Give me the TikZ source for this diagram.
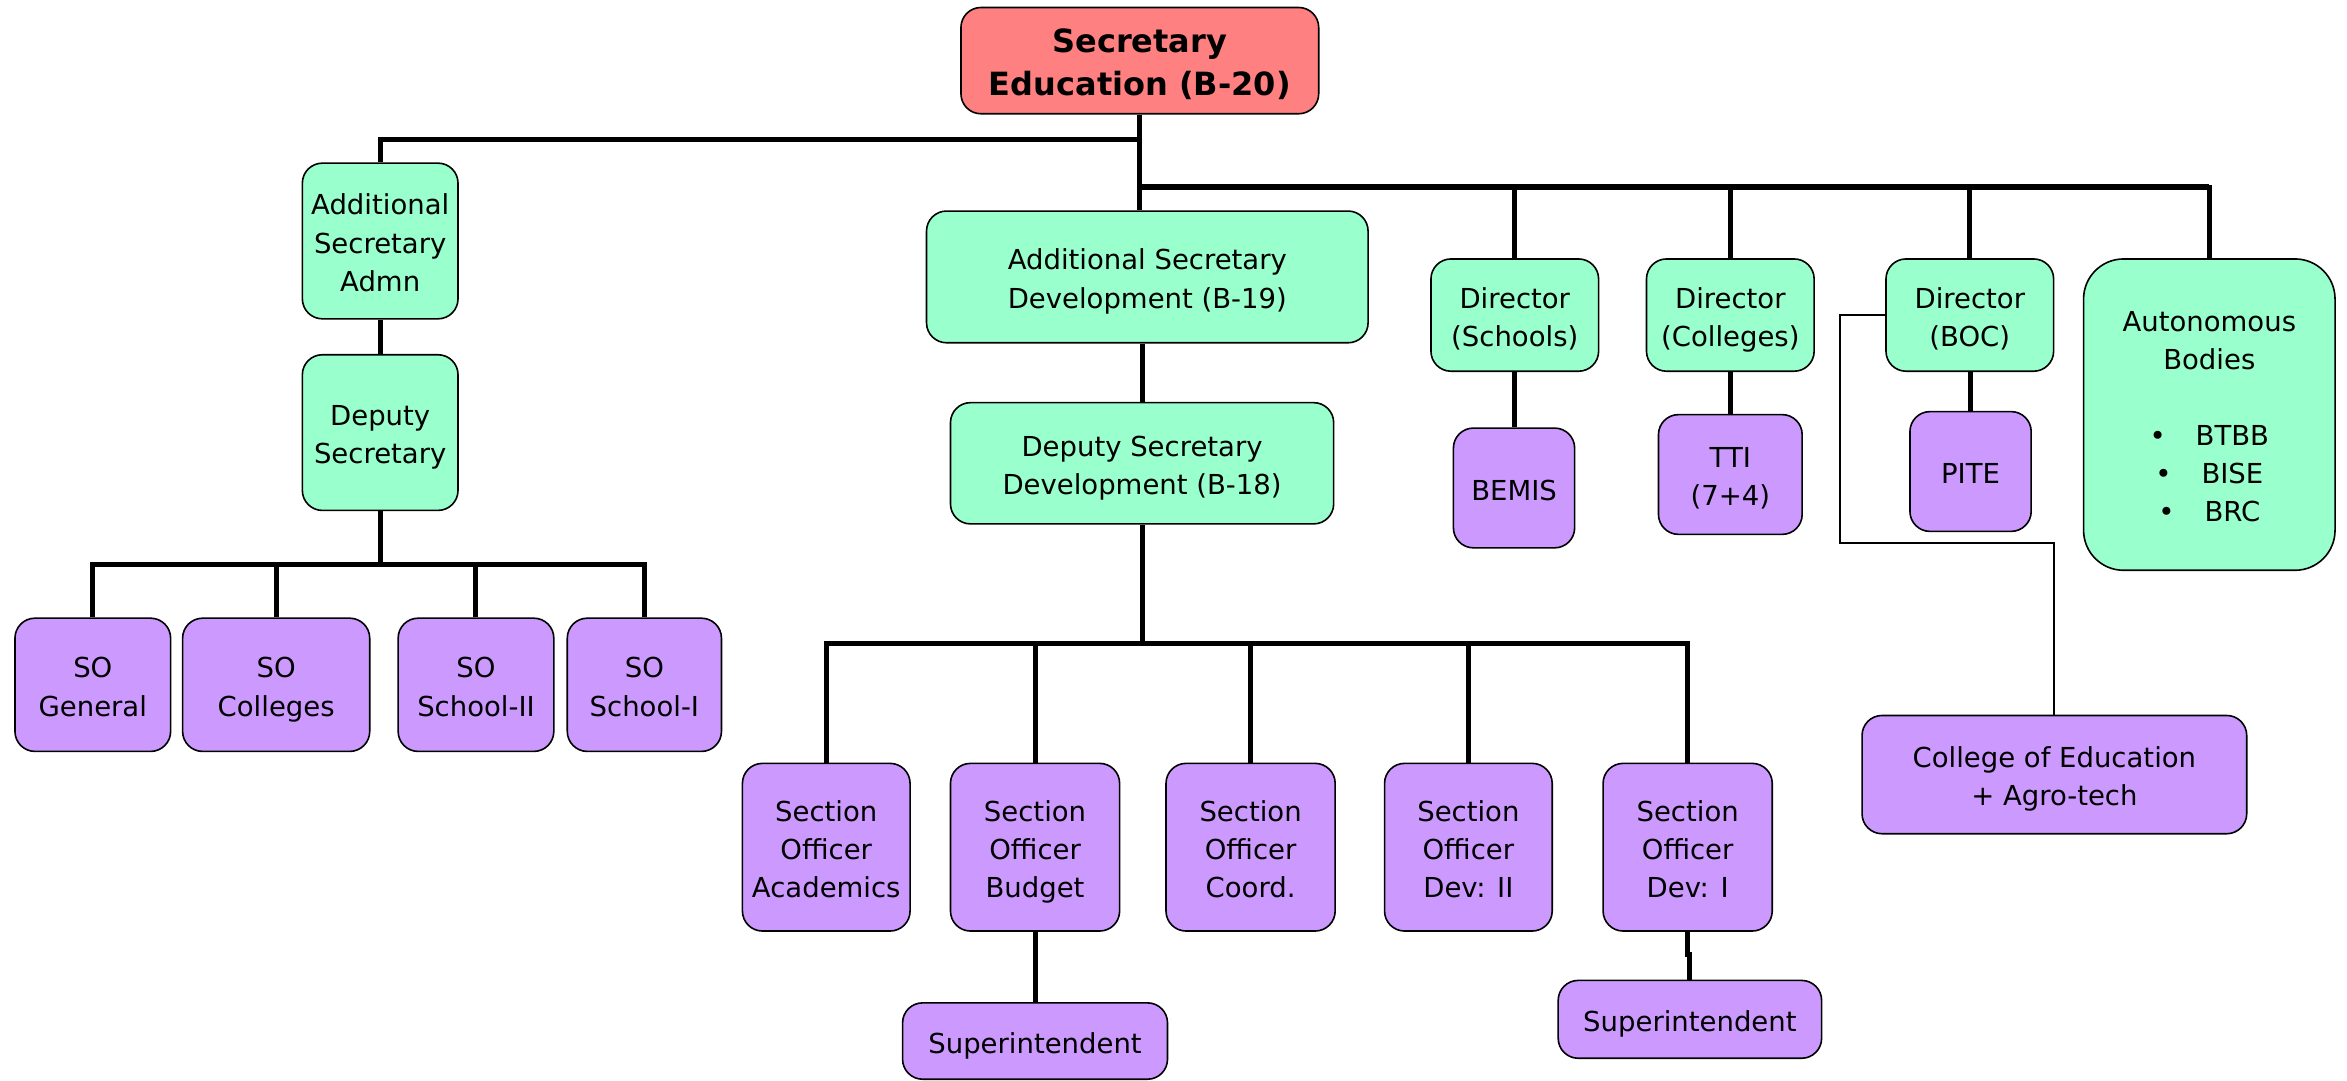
\documentclass[tikz,border=0pt]{standalone}
\usepackage{fontspec}
\setmainfont{DejaVu Sans}
\usetikzlibrary{calc}
\definecolor{redbox}{HTML}{FF8080}
\definecolor{greenbox}{HTML}{99FFCC}
\definecolor{purplebox}{HTML}{CC99FF}
\tikzset{
 box/.style={draw=black, line width=1.6pt, rounded corners=20pt, align=center, inner sep=0pt, font=\fontsize{27.5}{38.2}\selectfont},
 redb/.style={box, fill=redbox, font=\fontsize{32}{43.5}\selectfont\bfseries},
 greenb/.style={box, fill=greenbox},
 purpleb/.style={box, fill=purplebox},
 link/.style={line width=5pt},
 linkb/.style={line width=6.5pt},
 thinlink/.style={line width=1.8pt},
}
\newcommand{\topstr}{\rule{0pt}{\dimexpr0.7\baselineskip+9pt\relax}}
\newcommand{\bx}[7]{\pgfmathsetmacro\bxw{(#4-#2)*1.4968}\pgfmathsetmacro\bxh{(#5-#3)*1.4968}\node[#6, minimum width=\bxw pt, minimum height=\bxh pt] (#1) at ({(#2+#4)/2},{(#3+#5)/2}) {\topstr #7\strut};}
\begin{document}
\begin{tikzpicture}[x=1.4968pt,y=-1.4968pt]
\fill[white] (0,0) rectangle (1568,722);
\useasboundingbox (0,0) rectangle (1568,722);
% boxes
\bx{sec}{642}{5}{881}{76}{redb}{Secretary\\Education (B-20)}
\bx{asa}{202}{109}{306}{213}{greenb}{Additional\\Secretary\\Admn}
\bx{dsa}{202}{237}{306}{341}{greenb}{Deputy\\Secretary}
\bx{so1}{10}{413}{114}{502}{purpleb}{SO\\General}
\bx{so2}{122}{413}{247}{502}{purpleb}{SO\\Colleges}
\bx{so3}{266}{413}{370}{502}{purpleb}{SO\\School-II}
\bx{so4}{379}{413}{482}{502}{purpleb}{SO\\School-I}
\bx{asd}{619}{141}{914}{229}{greenb}{Additional Secretary\\Development (B-19)}
\bx{dsd}{635}{269}{891}{350}{greenb}{Deputy Secretary\\Development (B-18)}
\bx{sa}{496}{510}{608}{622}{purpleb}{Section\\Officer\\Academics}
\bx{sb}{635}{510}{748}{622}{purpleb}{Section\\Officer\\Budget}
\bx{sc}{779}{510}{892}{622}{purpleb}{Section\\Officer\\Coord.}
\bx{sd}{925}{510}{1037}{622}{purpleb}{Section\\Officer\\Dev: II}
\bx{se}{1071}{510}{1184}{622}{purpleb}{Section\\Officer\\Dev: I}
\bx{sup1}{603}{670}{780}{721}{purpleb}{Superintendent}
\bx{sup2}{1041}{655}{1217}{707}{purpleb}{Superintendent}
\bx{dsch}{956}{173}{1068}{248}{greenb}{Director\\(Schools)}
\bx{bemis}{971}{286}{1052}{366}{purpleb}{BEMIS}
\bx{dcol}{1100}{173}{1212}{248}{greenb}{Director\\(Colleges)}
\bx{tti}{1108}{277}{1204}{357}{purpleb}{TTI\\(7+4)}
\bx{boc}{1260}{173}{1372}{248}{greenb}{Director\\(BOC)}
\bx{pite}{1276}{275}{1357}{355}{purpleb}{PITE}
\bx{aut}{1392}{173}{1560}{381}{greenb,rounded corners=40pt}{Autonomous\\Bodies\\[37.4pt]•\hspace{30pt}BTBB\\•\hspace{30pt}BISE\\•\hspace{30pt}BRC}
\bx{coe}{1244}{478}{1501}{557}{purpleb}{College of Education\\+ Agro-tech}
% junctions
\coordinate (j1) at (761.5,93);
\coordinate (j2) at (761.5,125);
\coordinate (jl) at (254,377);
\coordinate (jd) at (763,430);
\coordinate (t1) at (1229,363);
% top connectors
\draw[link] (sec.south) -- (sec.south |- asd.north);
\draw[link] (j1) -| (asa.north);
\draw[linkb] (j2) -- (j2 -| aut.north);
\draw[link] (aut.north) -- ($(aut.north |- j2)+(0,-1.5)$);
\draw[link] (dsch.north) -- (dsch.north |- j2);
\draw[link] (dcol.north) -- (dcol.north |- j2);
\draw[link] (boc.north) -- (boc.north |- j2);
% admin tree
\draw[link] (asa.south) -- (dsa.north);
\draw[link] (dsa.south) -- (jl);
\draw[link] (so1.north) -- (so1.north |- jl) -- (so4.north |- jl) -- (so4.north);
\draw[link] (so2.north) -- (so2.north |- jl);
\draw[link] (so3.north) -- (so3.north |- jl);
% development tree
\draw[link] (asd.south -| dsd.north) -- (dsd.north);
\draw[link] (dsd.south) -- (jd);
\draw[link] (sa.north) -- (sa.north |- jd) -- (se.north |- jd) -- (se.north);
\draw[link] (sb.north) -- (sb.north |- jd);
\draw[link] (sc.north) -- (sc.north |- jd);
\draw[link] (sd.north) -- (sd.north |- jd);
\draw[link] (sb.south) -- (sup1.north);
\draw[link] (se.south) -- (se.south |- 0,638) -| (sup2.north);
% directors
\draw[link] (dsch.south -| bemis.north) -- (bemis.north);
\draw[link] (dcol.south) -- (tti.north);
\draw[link] (boc.south -| pite.north) -- (pite.north);
\draw[thinlink] (boc.west) -| (t1) -| (coe.north);
\end{tikzpicture}
\end{document}
